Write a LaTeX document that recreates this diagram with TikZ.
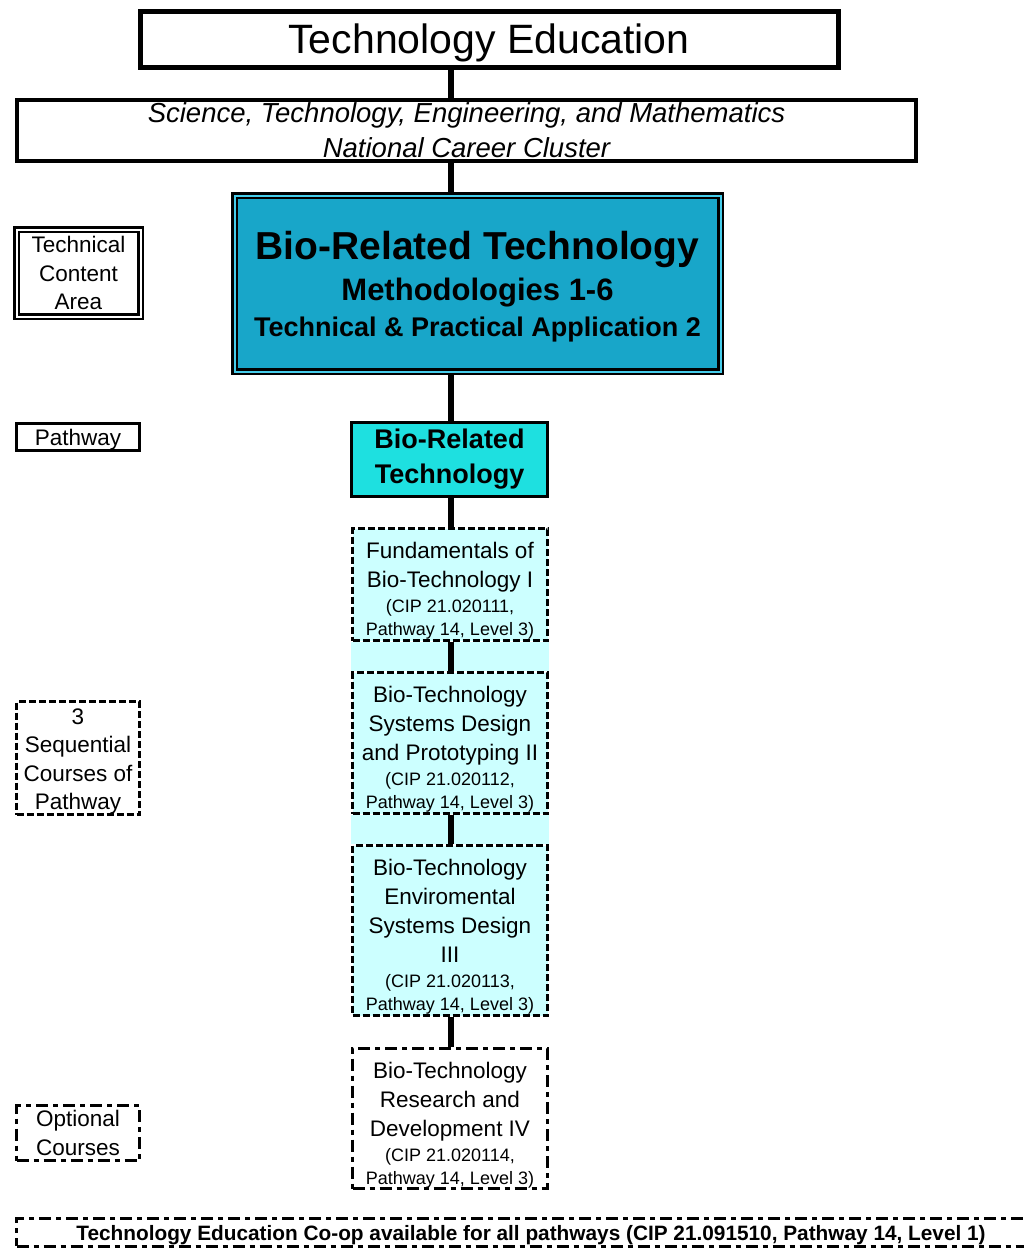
\documentclass[tikz,border=0pt]{standalone}
\usepackage{fontspec}
\setmainfont{Liberation Sans}
\usetikzlibrary{backgrounds}
\definecolor{bigfill}{RGB}{24,166,201}
\definecolor{rimcyan}{RGB}{70,205,235}
\definecolor{pathfill}{RGB}{30,224,224}
\definecolor{coursefill}{RGB}{204,255,255}
\tikzset{
  box/.style={draw=black, rectangle, inner sep=0pt, align=center, text=black},
  solidbox/.style={box, line width=3pt, fill=white},
  dashbox/.style={box, line width=3pt, dash pattern=on 7pt off 3pt},
  dashdotbox/.style={box, line width=3pt, dash pattern=on 12pt off 5pt on 5pt off 5pt, fill=white},
  course/.style={dashbox, fill=coursefill, minimum width=195pt, font=\fontsize{22.5}{29}\selectfont},
  optcourse/.style={dashdotbox, minimum width=195pt, font=\fontsize{22.5}{29}\selectfont},
  sidelabel/.style={minimum width=123pt, font=\fontsize{22.5}{28.5}\selectfont},
  link/.style={line width=6pt, black},
  band/.style={fill=coursefill, draw=none},
}
% raises the first line so that the text block sits a little low in its box
\newcommand\lift[1]{\rule{0pt}{#1}}
\newcommand\cipcode[1]{\\[-4pt]{\fontsize{18}{23}\selectfont (CIP 21.#1,}\\[-6pt]{\fontsize{18}{23}\selectfont Pathway 14, Level 3)}}
\begin{document}
\begin{tikzpicture}[x=1pt, y=-1pt]
\useasboundingbox (0,0) rectangle (1024,1248);
\coordinate (spine) at (451,0);

% cluster headings
\node[solidbox, line width=5pt, minimum width=698pt, minimum height=56pt,
      font=\fontsize{41}{45}\selectfont] (top) at (489,39) {\lift{37pt}Technology Education};
\node[solidbox, line width=4pt, minimum width=899pt, minimum height=61pt,
      font=\fontsize{27.5}{35}\selectfont\itshape] (stem) at (466.5,130.5)
  {Science, Technology, Engineering, and Mathematics\\National Career Cluster};

% technical content area
\node[box, line width=2.5pt, double=rimcyan, double distance=2pt, fill=bigfill,
      minimum width=486pt, minimum height=176pt, font=\fontsize{27}{36}\selectfont\bfseries] (big) at (477.5,283.5)
  {{\fontsize{39}{36}\selectfont\lift{35.5pt}Bio-Related Technology}\\[5pt]
   {\fontsize{31}{36}\selectfont Methodologies 1-6}\\
   Technical \& Practical Application 2};

% pathway
\node[box, line width=3pt, fill=pathfill, minimum width=196pt, minimum height=74pt,
      font=\fontsize{27}{35}\selectfont\bfseries] (path) at (449.5,459.5)
  {Bio-Related\\Technology};

% sequential courses
\node[course, minimum height=112pt] (c1) at (450,584.5)
  {\lift{29.5pt}Fundamentals of\\Bio-Technology I\cipcode{020111}};
\node[course, minimum height=141pt] (c2) at (450,743)
  {\lift{29.5pt}Bio-Technology\\Systems Design\\and Prototyping II\cipcode{020112}};
\node[course, minimum height=170pt] (c3) at (450,930.5)
  {\lift{29.5pt}Bio-Technology\\Enviromental\\Systems Design\\III\cipcode{020113}};
\node[optcourse, minimum height=140pt] (c4) at (450,1118.5)
  {\lift{29pt}Bio-Technology\\Research and\\Development IV\cipcode{020114}};

% left-hand legend
\node[box, sidelabel, line width=2.5pt, double=white, double distance=2pt, fill=white,
      minimum width=124pt, minimum height=87pt] (lcontent) at (78.5,273)
  {Technical\\Content\\Area};
\node[solidbox, sidelabel, minimum height=25pt] (lpath) at (78,437) {\lift{22.4pt}Pathway};
\node[dashbox, sidelabel, fill=white, minimum height=113pt] (lseq) at (78,758)
  {\lift{22.5pt}3\\Sequential\\Courses of\\Pathway};
\node[dashdotbox, sidelabel, minimum height=55pt] (lopt) at (78,1133)
  {Optional\\Courses};

% co-op banner
\node[dashdotbox, minimum width=1029pt, minimum height=28pt, text height=22.5pt, text depth=5.5pt,
      font=\fontsize{20.8}{24}\selectfont\bfseries] (coop) at (531,1232)
  {Technology Education Co-op available for all pathways (CIP 21.091510, Pathway 14, Level 1)};

\begin{scope}[on background layer]
  \fill[band] (c1.south west) rectangle (c2.north east);
  \fill[band] (c2.south west) rectangle (c3.north east);
  \draw[link] (top.south -| spine) -- (stem.north -| spine);
  \draw[link] (stem.south -| spine) -- (big.north -| spine);
  \draw[link] (big.south -| spine) -- (path.north -| spine);
  \draw[link] (path.south -| spine) -- (c1.north -| spine);
  \draw[link] (c1.south -| spine) -- (c2.north -| spine);
  \draw[link] (c2.south -| spine) -- (c3.north -| spine);
  \draw[link] (c3.south -| spine) -- (c4.north -| spine);
\end{scope}
\end{tikzpicture}
\end{document}
